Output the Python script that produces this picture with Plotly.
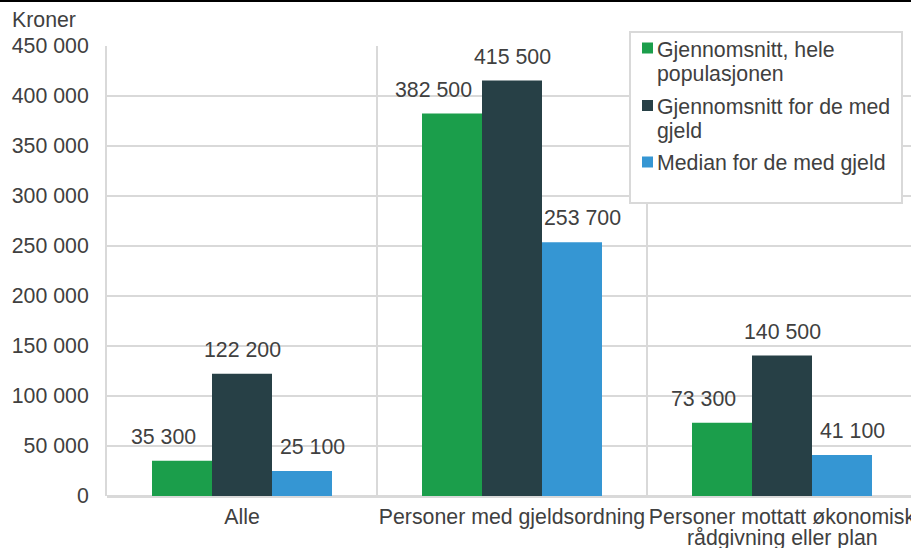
import plotly.graph_objects as go

categories = ["Alle", "Personer med gjeldsordning", "Personer mottatt økonomisk"]
category_second_lines = ["", "", "rådgivning eller plan"]
series_names = ["Gjennomsnitt, hele populasjonen", "Gjennomsnitt for de med gjeld", "Median for de med gjeld"]
legend_lines = [["Gjennomsnitt, hele", "populasjonen"], ["Gjennomsnitt for de med", "gjeld"], ["Median for de med gjeld"]]
snitt_alle = [35300, 382500, 73300]
snitt_gjeld = [122200, 415500, 140500]
median_gjeld = [25100, 253700, 41100]
y_ticks = [0, 50000, 100000, 150000, 200000, 250000, 300000, 350000, 400000, 450000]

colors = ["#1b9e4b", "#274046", "#3596d3"]
label_xshift = [-19, 0, 10]
FONT = "Liberation Sans, Arial, sans-serif"
FS = 21.3
TXT = "#404040"

W, H = 911, 548
L, R, T, B = 107, 0, 46, 52
plot_w = W - L - R
plot_h = H - T - B
cat_px = 270.0
x_hi = -0.5 + plot_w / cat_px


def px_x(px):
    return (px - L) / plot_w


def px_y(py):
    return (H - B - py) / plot_h


fig = go.Figure()
all_series = [snitt_alle, snitt_gjeld, median_gjeld]
bar_w_units = (1 - 1/3) / 3
for i, (name, vals) in enumerate(zip(series_names, all_series)):
    fig.add_trace(go.Bar(
        x=list(range(len(categories))), y=vals, name=name,
        marker=dict(color=colors[i], line=dict(width=0)),
    ))
    for j, v in enumerate(vals):
        fig.add_annotation(
            x=j + (i - 1) * bar_w_units, y=v, xref="x", yref="y",
            text=f"{v:,}".replace(",", " "), showarrow=False,
            yanchor="middle", yshift=24, xshift=label_xshift[i],
            font=dict(family=FONT, size=FS, color=TXT),
        )

# second line of wrapped category labels (tighter line spacing than Plotly's default)
for j, extra in enumerate(category_second_lines):
    if extra:
        fig.add_annotation(x=j, y=px_y(538), xref="x", yref="paper", text=extra,
                           showarrow=False, xanchor="center", yanchor="middle",
                           font=dict(family=FONT, size=FS, color=TXT))

fig.add_annotation(
    x=px_x(44), y=px_y(20), xref="paper", yref="paper",
    text="Kroner", showarrow=False, xanchor="center", yanchor="middle",
    font=dict(family=FONT, size=FS, color=TXT),
)

# top black rule
fig.add_shape(type="line", xref="paper", yref="paper",
              x0=px_x(-5), x1=px_x(W + 5), y0=px_y(1), y1=px_y(1),
              line=dict(color="#000000", width=2))

# legend box
lx0, lx1, ly0, ly1 = 630, 902, 32, 203
fig.add_shape(type="rect", xref="paper", yref="paper", layer="above",
              x0=px_x(lx0), x1=px_x(lx1), y0=px_y(ly1), y1=px_y(ly0),
              fillcolor="white", line=dict(color="#d9d9d9", width=2))

sym_cy = [48, 105.5, 162]
line_cy = [[50, 74], [107, 131], [163]]
for i in range(3):
    fig.add_shape(type="rect", xref="paper", yref="paper", layer="above",
                  x0=px_x(642), x1=px_x(653), y0=px_y(sym_cy[i] + 5.5), y1=px_y(sym_cy[i] - 5.5),
                  fillcolor=colors[i], line=dict(width=0))
    for ln, cy in zip(legend_lines[i], line_cy[i]):
        fig.add_annotation(x=px_x(655), y=px_y(cy), xref="paper", yref="paper",
                           text=ln, showarrow=False, xanchor="left", yanchor="middle",
                           font=dict(family=FONT, size=FS, color=TXT))

fig.update_layout(
    width=W, height=H,
    margin=dict(l=L, r=R, t=T, b=B, pad=0, autoexpand=False),
    plot_bgcolor="white", paper_bgcolor="white",
    barmode="group", bargap=1/3, bargroupgap=0,
    separators=", ",
    font=dict(family=FONT, size=FS, color=TXT),
    showlegend=False,
    xaxis=dict(
        tickmode="array", tickvals=list(range(len(categories))), ticktext=categories,
        range=[-0.5, x_hi], showgrid=False, zeroline=False,
        showline=False, ticks="", tickfont=dict(family=FONT, size=FS, color=TXT),
        ticklabelstandoff=6, ticklabeloverflow="allow", tickangle=0, automargin=False,
    ),
    yaxis=dict(
        range=[0, 450000], tickmode="array", tickvals=y_ticks,
        ticktext=[f"{v:,}".replace(",", " ") for v in y_ticks],
        showgrid=True, gridcolor="#d9d9d9", gridwidth=2,
        zeroline=True, zerolinecolor="#d9d9d9", zerolinewidth=3,
        showline=True, linecolor="#d9d9d9", linewidth=2,
        ticks="", ticklabelstandoff=12, automargin=False,
        tickfont=dict(family=FONT, size=FS, color=TXT),
    ),
)

# vertical category separators
for k in range(len(categories)):
    b = k + 0.5
    if b < x_hi:
        fig.add_shape(type="line", xref="x", yref="paper", x0=b, x1=b, y0=0, y1=1,
                      layer="below", line=dict(color="#d9d9d9", width=2))

fig.write_html("out.html", config={"displayModeBar": False},
               post_script="document.body.style.margin='0';document.body.style.overflow='hidden';")
